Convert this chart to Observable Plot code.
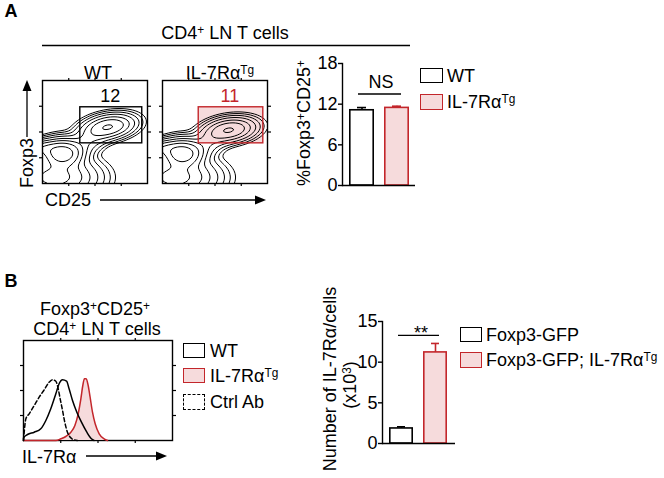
<!DOCTYPE html>
<html><head><meta charset="utf-8">
<script src="https://cdn.jsdelivr.net/npm/d3@7"></script>
<script src="https://cdn.jsdelivr.net/npm/@observablehq/plot@0.6"></script>
<style>
body{margin:0;background:#fff;}
#fig{position:relative;width:664px;height:478px;font-family:"Liberation Sans",Arial,Helvetica,sans-serif;color:#000;overflow:hidden;background:#fff;}
.t{position:absolute;white-space:nowrap;line-height:1;font-size:18px;}
.t sup{font-size:0.66em;line-height:0;position:relative;top:-0.42em;vertical-align:baseline;}
.box{position:absolute;box-sizing:border-box;}
svg.p{position:absolute;}
</style></head><body><div id="fig"></div><script>
// ---------- data ----------
const groupsA = ["WT", "IL-7RαTg"];
const pctA = [11.1, 11.45];
const errA = [0.4, 0.25];
const groupsB = ["Foxp3-GFP", "Foxp3-GFP; IL-7RαTg"];
const numB = [1.85, 11.2];
const errB = [0.2, 1.1];
const gateLabels = ["12", "11"];
// gate rectangles (normalized CD25 / Foxp3 axes)
const gateWT = [{x1: 0.36, x2: 0.95, y1: 0.39, y2: 0.74}];
const gateTg = [{x1: 0.345, x2: 0.96, y1: 0.39, y2: 0.74}];
// cell populations (centre, spread, tilt, weight)
const popsWT = [
  {cx: 0.19, cy: 0.29, sx: 0.10, sy: 0.07, rot: 0, w: 1},
  {cx: 0.00, cy: 0.34, sx: 0.10, sy: 0.045, rot: 0, w: 0.3},
  {cx: 0.12, cy: 0.06, sx: 0.20, sy: 0.10, rot: 0, w: 0.5},
  {cx: 0.63, cy: 0.55, sx: 0.13, sy: 0.06, rot: 10, w: 0.4},
  {cx: 0.40, cy: 0.40, sx: 0.15, sy: 0.07, rot: 30, w: 0.12}
];
const popsTg = [
  {cx: 0.19, cy: 0.29, sx: 0.10, sy: 0.07, rot: 0, w: 1},
  {cx: 0.00, cy: 0.34, sx: 0.10, sy: 0.045, rot: 0, w: 0.3},
  {cx: 0.12, cy: 0.06, sx: 0.20, sy: 0.10, rot: 0, w: 0.5},
  {cx: 0.64, cy: 0.52, sx: 0.13, sy: 0.06, rot: 8, w: 0.4},
  {cx: 0.40, cy: 0.38, sx: 0.15, sy: 0.07, rot: 30, w: 0.12}
];
const contourLevels = [-0.15, -0.4, -0.65, -0.9, -1.2, -1.5, -1.8, -2.1];
// IL-7Ra histograms [x, y] (normalized)
const histCtrl = [[0,0],[0.016,0.217],[0.038,0.267],[0.072,0.35],[0.105,0.433],[0.139,0.507],[0.172,0.583],[0.195,0.607],[0.217,0.593],[0.233,0.517],[0.246,0.417],[0.262,0.30],[0.277,0.183],[0.295,0.083],[0.317,0.027],[0.34,0.007],[0.362,0]];
const histWT = [[0,0],[0,0.027],[0.027,0.06],[0.072,0.083],[0.116,0.117],[0.15,0.2],[0.183,0.317],[0.217,0.467],[0.239,0.567],[0.262,0.607],[0.289,0.593],[0.306,0.517],[0.329,0.4],[0.358,0.283],[0.389,0.183],[0.425,0.083],[0.456,0.017],[0.474,0]];
const histTg = [[0,0],[0.217,0],[0.251,0.017],[0.284,0.04],[0.318,0.083],[0.345,0.15],[0.367,0.267],[0.385,0.417],[0.398,0.55],[0.409,0.617],[0.421,0.617],[0.434,0.55],[0.447,0.433],[0.463,0.283],[0.481,0.167],[0.508,0.067],[0.541,0.017],[0.564,0]];

// ---------- styles ----------
const RED = "#c3262b", PINK = "#f6dbdc", FONT = '"Liberation Sans",Arial,Helvetica,sans-serif';
const fig = document.getElementById("fig");

function place(svg, left, top) {
  svg.classList.add("p");
  svg.style.left = left + "px"; svg.style.top = top + "px";
  fig.appendChild(svg);
}
function label(html, x, y, o = {}) {
  const d = document.createElement("div");
  d.className = "t"; d.innerHTML = html;
  d.style.left = x + "px"; d.style.top = y + "px";
  if (o.size) d.style.fontSize = o.size + "px";
  if (o.color) d.style.color = o.color;
  if (o.bold) d.style.fontWeight = "bold";
  const ax = o.anchor === "start" ? "0" : "-50%";
  d.style.transform = `translate(${ax},-50%)`;
  if (o.rotate) { d.style.transform = `translate(-50%,-50%) rotate(${o.rotate}deg)`; }
  fig.appendChild(d);
  return d;
}
function box(x, y, w, h, stroke, fill, dashed) {
  const b = document.createElement("div");
  b.className = "box";
  Object.assign(b.style, {left: x + "px", top: y + "px", width: w + "px", height: h + "px",
    border: `1.6px ${dashed ? "dashed" : "solid"} ${stroke}`, background: fill});
  fig.appendChild(b);
}
const axStyle = {background: "transparent", overflow: "visible", fontFamily: FONT, fontSize: "18px", color: "#000"};
function frameTicks() {
  const t = [0.25, 0.5, 0.75], f = () => "";
  return [
    Plot.axisX({anchor: "top", ticks: t, tickSize: 3, tickFormat: f, label: null, strokeWidth: 1.2}),
    Plot.axisX({anchor: "bottom", ticks: t, tickSize: 3, tickFormat: f, label: null, strokeWidth: 1.2}),
    Plot.axisY({anchor: "left", ticks: t, tickSize: 3, tickFormat: f, label: null, strokeWidth: 1.2}),
    Plot.axisY({anchor: "right", ticks: t, tickSize: 3, tickFormat: f, label: null, strokeWidth: 1.2})
  ];
}
function density(pops) {
  return (x, y) => {
    let s = 1e-6;
    for (const p of pops) {
      const a = p.rot * Math.PI / 180, dx = x - p.cx, dy = y - p.cy;
      const u = dx * Math.cos(a) + dy * Math.sin(a), v = -dx * Math.sin(a) + dy * Math.cos(a);
      s += p.w * Math.exp(-0.5 * (u * u / (p.sx * p.sx) + v * v / (p.sy * p.sy)));
    }
    return Math.log10(s);
  };
}
function contourPlot(pops, gate, lab, tg) {
  return Plot.plot({
    width: 115, height: 113, margin: 5,
    x: {domain: [0, 1]}, y: {domain: [0, 1]},
    style: axStyle,
    marks: [
      Plot.rect(gate, {x1: "x1", x2: "x2", y1: "y1", y2: "y2", fill: tg ? PINK : "none"}),
      Plot.contour({value: density(pops), x1: 0, y1: 0, x2: 1, y2: 1, thresholds: contourLevels,
        fill: "none", stroke: "#000", strokeWidth: 1, pixelSize: 1}),
      Plot.rect(gate, {x1: "x1", x2: "x2", y1: "y1", y2: "y2", fill: "none", stroke: tg ? RED : "#000", strokeWidth: 1.4}),
      Plot.text([lab], {x: d => (gate[0].x1 + gate[0].x2) / 2 - 0.01, y: 0.845, text: d => d, fill: tg ? RED : "#000", fontSize: 18}),
      Plot.frame({stroke: "#000", strokeWidth: 1.4}),
      ...frameTicks()
    ]
  });
}

// ---------- panel A ----------
label("A", 11, 11, {bold: true, size: 18});
label("CD4<sup>+</sup> LN T cells", 225, 33);
label("WT", 98, 73);
label("IL-7Rα<sup>Tg</sup>", 220, 73);
place(contourPlot(popsWT, gateWT, gateLabels[0], false), 37, 75);
place(contourPlot(popsTg, gateTg, gateLabels[1], true), 157, 75);
label("Foxp3", 27, 163, {rotate: -90});
label("CD25", 45, 200, {anchor: "start"});

function barPlot(groups, vals, errs, yMax, yTicks, sig, sigY, pad, insets) {
  const rows = groups.map((g, i) => ({group: g, value: vals[i], err: errs[i]}));
  const strokes = ["#000", RED], fills = ["#fff", PINK];
  const marks = [];
  rows.forEach((r, i) => {
    marks.push(
      Plot.ruleX([r], {x: "group", y1: "value", y2: d => d.value + d.err, stroke: strokes[i], strokeWidth: 1.6}),
      Plot.tickY([r], {x: "group", y: d => d.value + d.err, stroke: strokes[i], strokeWidth: 1.6, insetLeft: 8, insetRight: 8}),
      Plot.rectY([r], {x: "group", y: "value", fill: fills[i], stroke: strokes[i], strokeWidth: 1.6, insetLeft: 0.8, insetRight: 0.8})
    );
  });
  marks.push(
    Plot.ruleY([sigY], {insetLeft: insets[0], insetRight: insets[1], stroke: "#000", strokeWidth: 1.3}),
    Plot.text([sig], {y: sigY, text: d => d, dy: insets[2], fontSize: 18, frameAnchor: "middle", dx: 2}),
    Plot.ruleY([0], {stroke: "#000", strokeWidth: 1.4}),
    Plot.axisY({ticks: yTicks, tickSize: 4, tickPadding: 1, label: null, fontSize: 18, strokeWidth: 1.4}),
    Plot.frame({anchor: "left", stroke: "#000", strokeWidth: 1.4})
  );
  return Plot.plot({
    width: 120, height: 160, marginLeft: 42, marginRight: 5, marginTop: 21, marginBottom: 17,
    x: {domain: groups, paddingInner: pad[0], paddingOuter: pad[1], axis: null},
    y: {domain: [0, yMax]},
    style: axStyle,
    marks
  });
}
// A bar chart
{
  const svg = barPlot(groupsA, pctA, errA, 18, [0, 6, 12, 18], "NS", 13.5, [0.3, 0.17], [16, 14, -12]);
  place(svg, 300, 42);
}
label("%Foxp3<sup>+</sup>CD25<sup>+</sup>", 304, 123, {rotate: -90});
box(420, 68, 23, 15, "#000", "#fff");
label("WT", 447, 76, {anchor: "start"});
box(420, 94, 23, 16, RED, PINK);
label("IL-7Rα<sup>Tg</sup>", 447, 102, {anchor: "start"});

// ---------- panel B ----------
label("B", 11, 281, {bold: true, size: 18});
label("Foxp3<sup>+</sup>CD25<sup>+</sup>", 95, 309);
label("CD4<sup>+</sup> LN T cells", 97, 329);
{
  const svg = Plot.plot({
    width: 159, height: 110, margin: 5,
    x: {domain: [0, 1]}, y: {domain: [0, 1]},
    style: axStyle,
    marks: [
      Plot.frame({stroke: "#000", strokeWidth: 1.4}),
      ...frameTicks(),
      Plot.areaY(histTg, {x: d => d[0], y: d => d[1], fill: PINK, curve: "monotone-x"}),
      Plot.line(histTg, {x: d => d[0], y: d => d[1], stroke: RED, strokeWidth: 1.5, curve: "monotone-x"}),
      Plot.line(histWT, {x: d => d[0], y: d => d[1], stroke: "#000", strokeWidth: 1.5, curve: "monotone-x"}),
      Plot.line(histCtrl, {x: d => d[0], y: d => d[1], stroke: "#000", strokeWidth: 1.5, strokeDasharray: "4,2.5", curve: "monotone-x"})
    ]
  });
  place(svg, 18, 335);
}
label("IL-7Rα", 22, 457, {anchor: "start"});
box(183, 343, 22, 15, "#000", "#fff");
label("WT", 210, 351, {anchor: "start"});
box(183, 368, 22, 15, RED, PINK);
label("IL-7Rα<sup>Tg</sup>", 210, 376, {anchor: "start"});
box(183, 394, 22, 16, "#000", "#fff", true);
label("Ctrl Ab", 210, 402, {anchor: "start"});

{
  const svg = barPlot(groupsB, numB, errB, 15, [0, 5, 10, 15], "**", 13.3, [0.28, 0.2], [16, 16, -2]);
  place(svg, 340, 300);
}
label("Number of IL-7Rα/cells", 330, 379, {rotate: -90});
label("(x10<sup>3</sup>)", 350, 385, {rotate: -90});
box(460, 327, 22, 15, "#000", "#fff");
label("Foxp3-GFP", 486, 335, {anchor: "start"});
box(460, 352, 22, 16, RED, PINK);
label("Foxp3-GFP; IL-7Rα<sup>Tg</sup>", 486, 360, {anchor: "start"});

// ---------- annotation lines and arrows ----------
const ov = d3.select(fig).append("svg").attr("width", 664).attr("height", 478)
  .style("position", "absolute").style("left", 0).style("top", 0).style("pointer-events", "none");
ov.append("line").attr("x1", 42).attr("x2", 410).attr("y1", 45.5).attr("y2", 45.5).attr("stroke", "#000").attr("stroke-width", 1.3);
function arrow(x1, y1, x2, y2) {
  const ang = Math.atan2(y2 - y1, x2 - x1), L = 11, W = 4.5;
  const bx = x2 - L * Math.cos(ang), by = y2 - L * Math.sin(ang);
  ov.append("line").attr("x1", x1).attr("y1", y1).attr("x2", bx).attr("y2", by).attr("stroke", "#000").attr("stroke-width", 1.3);
  ov.append("path").attr("fill", "#000").attr("d",
    `M${x2},${y2}L${bx - W * Math.sin(ang)},${by + W * Math.cos(ang)}L${bx + W * Math.sin(ang)},${by - W * Math.cos(ang)}Z`);
}
arrow(27, 137, 27, 80);
arrow(100, 200, 266, 200);
arrow(86, 456, 167, 456);
</script></body></html>
